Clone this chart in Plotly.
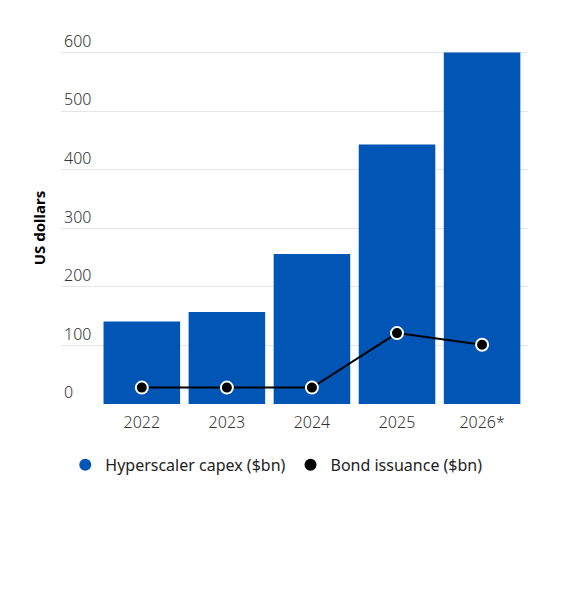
import plotly.graph_objects as go

years = ["2022", "2023", "2024", "2025", "2026*"]
capex = [141, 157, 256, 443, 600]
bonds = [28, 28, 28, 121, 101]
y_ticks = [0, 100, 200, 300, 400, 500, 600]

blue = "#0055B5"
text_col = "#333333"
font_family = "Noto Sans, Lato, sans-serif"

fig = go.Figure()

fig.add_trace(go.Bar(x=years, y=capex, marker=dict(color=blue, line=dict(width=0)),
                     name="Hyperscaler capex ($bn)", showlegend=False))
fig.add_trace(go.Scatter(x=years, y=bonds, mode="lines+markers",
                         line=dict(color="black", width=2),
                         marker=dict(color="black", size=12, line=dict(color="white", width=2)),
                         name="Bond issuance ($bn)", showlegend=False))

# legend entries drawn as plain dots
fig.add_trace(go.Scatter(x=[None], y=[None], mode="markers",
                         marker=dict(color=blue, size=16), name="Hyperscaler capex ($bn)"))
fig.add_trace(go.Scatter(x=[None], y=[None], mode="markers",
                         marker=dict(color="black", size=16), name="Bond issuance ($bn)"))

fig.update_layout(
    width=554, height=586,
    margin=dict(l=53, r=34, t=20.5, b=190),
    paper_bgcolor="white", plot_bgcolor="white",
    font=dict(family=font_family, size=15, color=text_col),
    bargap=0.1,
    legend=dict(orientation="h", x=0.461, xanchor="center", y=-0.162, yanchor="middle",
                font=dict(size=16, color="#222222"), itemsizing="constant"),
)
fig.add_annotation(text="<b>US dollars</b>", textangle=-90, xref="paper", yref="paper",
                   x=-0.047, y=300 / 640, xanchor="center", yanchor="middle", showarrow=False,
                   font=dict(size=15, color="black"))
fig.update_xaxes(range=[-0.95, 4.54], showgrid=False, showline=False, ticks="",
                 ticklabelstandoff=7, tickfont=dict(size=16, color=text_col, weight=300))
fig.update_yaxes(range=[0, 640], tickvals=y_ticks, showgrid=True, gridcolor="#e6e6e6",
                 zeroline=False, ticklabelposition="inside top", ticks="", automargin=False,
                 tickfont=dict(size=16, color=text_col, weight=300))

fig.write_html("out.html")
